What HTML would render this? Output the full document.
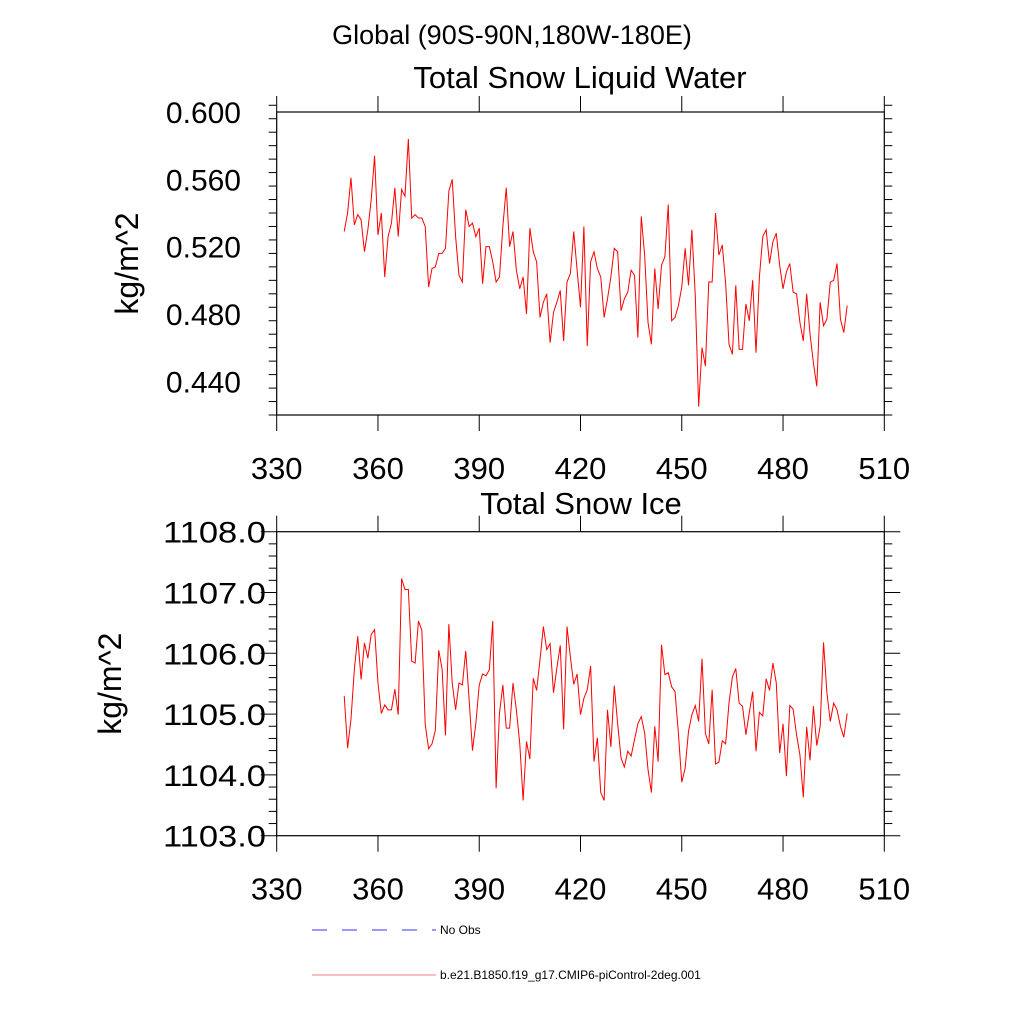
<!DOCTYPE html>
<html><head><meta charset="utf-8"><style>
html,body{margin:0;padding:0;background:#fff;}
svg{display:block;font-family:"Liberation Sans",sans-serif;}
</style></head><body>
<svg id="chart" width="1024" height="1024" viewBox="0 0 1024 1024" xmlns="http://www.w3.org/2000/svg">
<text x="512" y="44" font-size="27" text-anchor="middle">Global (90S-90N,180W-180E)</text>
<g id="p1"></g>
<g id="p2"></g>
<g>
<line x1="312" y1="930" x2="436" y2="930" stroke="#5a5aff" stroke-width="1.2" stroke-dasharray="15,15"/>
<text x="440" y="934" font-size="12">No Obs</text>
<line x1="312" y1="975" x2="436" y2="975" stroke="#f08080" stroke-width="1"/>
<text x="440" y="979" font-size="12">b.e21.B1850.f19_g17.CMIP6-piControl-2deg.001</text>
</g>
</svg>
<script>
const startYear = 350;
const liquidWater = [0.529,0.540,0.561,0.533,0.539,0.536,0.517,0.530,0.548,0.574,0.527,0.540,0.502,0.526,0.534,0.555,0.526,0.554,0.550,0.584,0.537,0.539,0.537,0.537,0.532,0.496,0.507,0.508,0.516,0.516,0.519,0.553,0.560,0.526,0.503,0.499,0.542,0.532,0.534,0.526,0.531,0.498,0.520,0.520,0.511,0.499,0.502,0.532,0.555,0.520,0.529,0.506,0.495,0.502,0.480,0.531,0.517,0.511,0.478,0.487,0.492,0.463,0.481,0.487,0.494,0.464,0.499,0.504,0.529,0.506,0.484,0.532,0.461,0.511,0.517,0.507,0.502,0.478,0.489,0.502,0.519,0.517,0.482,0.489,0.493,0.506,0.503,0.466,0.538,0.515,0.475,0.462,0.507,0.483,0.509,0.514,0.545,0.476,0.478,0.485,0.496,0.519,0.497,0.530,0.491,0.425,0.460,0.449,0.499,0.499,0.540,0.515,0.521,0.498,0.462,0.456,0.497,0.459,0.459,0.486,0.476,0.500,0.457,0.502,0.526,0.530,0.510,0.523,0.528,0.509,0.495,0.505,0.510,0.493,0.492,0.475,0.464,0.492,0.468,0.451,0.437,0.487,0.473,0.477,0.499,0.500,0.510,0.477,0.469,0.485];
const snowIce = [1105.30,1104.44,1104.91,1105.73,1106.28,1105.57,1106.17,1105.92,1106.31,1106.39,1105.51,1105.01,1105.15,1105.07,1105.07,1105.41,1104.99,1107.23,1107.05,1107.05,1105.87,1105.84,1106.53,1106.38,1104.83,1104.43,1104.51,1104.73,1106.05,1105.74,1104.65,1106.48,1105.51,1105.07,1105.51,1105.48,1106.04,1105.24,1104.40,1104.85,1105.48,1105.66,1105.63,1105.73,1106.53,1103.78,1105.02,1105.48,1104.77,1104.77,1105.51,1105.07,1104.52,1103.58,1104.55,1104.26,1105.59,1105.39,1105.89,1106.44,1106.06,1106.16,1105.35,1105.76,1106.13,1104.75,1106.44,1105.94,1105.49,1105.66,1104.99,1105.26,1105.40,1105.79,1104.22,1104.61,1103.71,1103.58,1105.07,1104.46,1105.47,1104.85,1104.28,1104.13,1104.39,1104.31,1104.58,1104.84,1104.96,1104.69,1104.09,1103.71,1104.80,1104.22,1106.14,1105.65,1105.68,1105.45,1105.37,1104.69,1103.88,1104.11,1104.72,1104.99,1105.14,1104.88,1105.91,1104.68,1104.51,1105.40,1104.18,1104.21,1104.56,1104.51,1105.19,1105.61,1105.75,1105.18,1105.13,1104.66,1105.02,1105.37,1104.39,1105.03,1104.97,1105.58,1105.39,1105.84,1105.51,1104.36,1104.84,1103.98,1105.14,1105.08,1104.66,1104.33,1103.63,1104.79,1104.24,1105.13,1104.48,1104.80,1106.18,1105.35,1104.88,1105.18,1105.07,1104.80,1104.62,1105.01];
const xTicks = [330,360,390,420,450,480,510];
const yTicks1 = ["0.440","0.480","0.520","0.560","0.600"];
const yTicks2 = ["1103.0","1104.0","1105.0","1106.0","1107.0","1108.0"];

const NS="http://www.w3.org/2000/svg";
function mk(parent,tag,attrs){const e=document.createElementNS(NS,tag);for(const k in attrs)e.setAttribute(k,attrs[k]);parent.appendChild(e);return e;}

function panel(g,cfg){
  const L=276.7,R=884.3,T=cfg.top,B=cfg.bottom;
  const xs=v=>L+(v-330)/(510-330)*(R-L);
  const ys=v=>B-(v-cfg.ymin)/(cfg.ymax-cfg.ymin)*(B-T);
  const fr=mk(g,'rect',{x:L,y:T,width:R-L,height:B-T,fill:'none',stroke:'#000','stroke-width':1.2});
  
  
  const n=Math.round((cfg.ymax-cfg.ymin)/cfg.minor);
  for(let k=0;k<=n;k++){
    const v=cfg.ymin+k*cfg.minor;
    const y=ys(v);
    const len=cfg.majorSet.some(m=>Math.abs(m-v)<1e-6)?16:8;
    const t1=mk(g,'line',{x1:L-len,y1:y,x2:L,y2:y,stroke:'#000','stroke-width':1});
    
    
    const t2=mk(g,'line',{x1:R,y1:y,x2:R+len,y2:y,stroke:'#000','stroke-width':1});
    
    
  }
  cfg.yLabels.forEach(s=>{
    const v=parseFloat(s);
    const attrs={x:cfg.ylx,y:ys(v)+11,'font-size':30,'text-anchor':'end'};
    if(cfg.ylw){attrs.textLength=cfg.ylw;attrs.lengthAdjust='spacingAndGlyphs';}
    const t=mk(g,'text',attrs);
    t.textContent=s;
    
    
  });
  xTicks.forEach(v=>{
    const x=xs(v);
    const a=mk(g,'line',{x1:x,y1:B,x2:x,y2:B+16,stroke:'#000','stroke-width':1});
    
    
    const b=mk(g,'line',{x1:x,y1:T-16,x2:x,y2:T,stroke:'#000','stroke-width':1});
    
    
    const t=mk(g,'text',{x:x,y:B+64,'font-size':31,'text-anchor':'middle'});
    t.textContent=v;
    
    
  });
  const title=mk(g,'text',{x:cfg.titleX,y:cfg.titleY,'font-size':31,'text-anchor':'middle'});
  title.textContent=cfg.title;
  
  
  const cy=(T+B)/2;
  const yt=mk(g,'text',{x:cfg.ytx,y:cy,'font-size':32,'text-anchor':'middle',transform:`rotate(-90 ${cfg.ytx} ${cy})`});
  yt.textContent='kg/m^2';
  
  
  const pts=cfg.data.map((v,i)=>xs(startYear+i).toFixed(2)+','+ys(v).toFixed(2)).join(' ');
  const pl=mk(g,'polyline',{points:pts,fill:'none',stroke:'#ff0000','stroke-width':1});
  
  
}
panel(document.getElementById('p1'),{top:112,bottom:415,ymin:0.42,ymax:0.60,minor:0.008,major:0.04,ylx:241,
  majorSet:yTicks1.map(parseFloat),yLabels:yTicks1,data:liquidWater,title:'Total Snow Liquid Water',titleX:580,titleY:88,ytx:138});
panel(document.getElementById('p2'),{top:531.7,bottom:835.7,ymin:1103,ymax:1108,minor:0.2,major:1,ylx:266,ylw:103,
  majorSet:yTicks2.map(parseFloat),yLabels:yTicks2,data:snowIce,title:'Total Snow Ice',titleX:581,titleY:514,ytx:121});
</script>
</body></html>
